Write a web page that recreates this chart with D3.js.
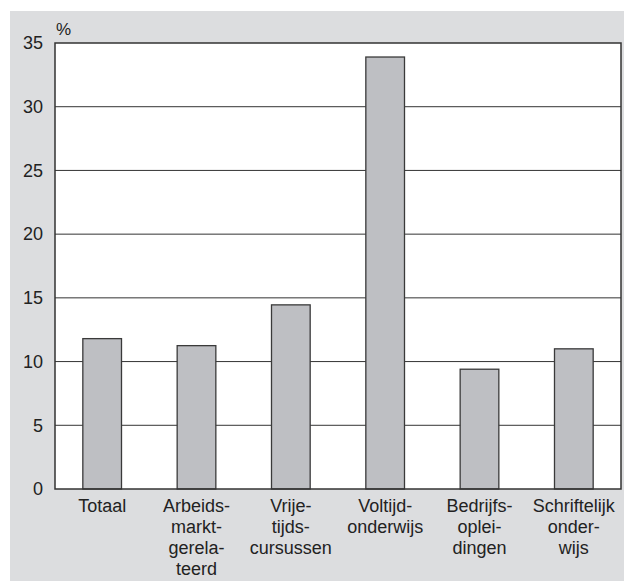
<!DOCTYPE html>
<html>
<head>
<meta charset="utf-8">
<script src="https://cdn.jsdelivr.net/npm/d3@7/dist/d3.min.js"></script>
<style>
  body { margin: 0; background: #ffffff; }
  svg { display: block; }
  text { font-family: "Liberation Sans", Arial, Helvetica, sans-serif; fill: #222; }
</style>
</head>
<body>
<svg id="chart" width="626" height="582"></svg>
<script>
const categories = [
  ["Totaal"],
  ["Arbeids-", "markt-", "gerela-", "teerd"],
  ["Vrije-", "tijds-", "cursussen"],
  ["Voltijd-", "onderwijs"],
  ["Bedrijfs-", "oplei-", "dingen"],
  ["Schriftelijk", "onder-", "wijs"]
];
const values = [11.8, 11.25, 14.45, 33.9, 9.4, 11.0];
const yTicks = [0, 5, 10, 15, 20, 25, 30, 35];
const unitLabel = "%";

const svg = d3.select("#chart");
const x0 = 55, x1 = 621, yTop = 43, yBot = 489;

// background panel
svg.append("rect")
  .attr("x", 10).attr("y", 11).attr("width", 614).attr("height", 570)
  .attr("fill", "#dcdddf");

const x = d3.scaleBand()
  .domain(d3.range(categories.length))
  .range([x0, x1])
  .paddingInner(0.59).paddingOuter(0.295);

const y = d3.scaleLinear().domain([0, 35]).range([yBot, yTop]);

// plot area
svg.append("rect")
  .attr("x", x0).attr("y", yTop).attr("width", x1 - x0).attr("height", yBot - yTop)
  .attr("fill", "#ffffff");

// gridlines
svg.append("g").selectAll("line")
  .data(yTicks.filter(t => t > 0 && t < 35))
  .join("line")
  .attr("x1", x0).attr("x2", x1)
  .attr("y1", d => y(d)).attr("y2", d => y(d))
  .attr("stroke", "#333").attr("stroke-width", 1);

// bars
svg.append("g").selectAll("rect")
  .data(values)
  .join("rect")
  .attr("x", (d, i) => x(i))
  .attr("y", d => y(d))
  .attr("width", x.bandwidth())
  .attr("height", d => y(0) - y(d))
  .attr("fill", "#bebfc3")
  .attr("stroke", "#3a3a3a")
  .attr("stroke-width", 1.3);

// frame
svg.append("rect")
  .attr("x", x0).attr("y", yTop).attr("width", x1 - x0).attr("height", yBot - yTop)
  .attr("fill", "none").attr("stroke", "#333").attr("stroke-width", 1.5);

// y axis labels
const yAxis = d3.axisLeft(y).tickValues(yTicks).tickSize(0).tickPadding(12);
const gy = svg.append("g").attr("transform", `translate(${x0},0)`).call(yAxis);
gy.select(".domain").remove();
gy.selectAll("text")
  .attr("font-size", 18)
  .attr("font-family", "Liberation Sans, Arial, sans-serif")
  .attr("fill", "#1e1e1e");

svg.append("text")
  .attr("x", x0 + 1).attr("y", 35)
  .attr("font-size", 17)
  .text(unitLabel);

// category labels
const gx = svg.append("g");
categories.forEach((lines, i) => {
  const cx = x(i) + x.bandwidth() / 2;
  const t = gx.append("text")
    .attr("text-anchor", "middle")
    .attr("font-size", 18)
    .attr("fill", "#1e1e1e");
  lines.forEach((ln, j) => {
    t.append("tspan").attr("x", cx).attr("y", 512 + j * 21).text(ln);
  });
});
</script>
</body>
</html>
